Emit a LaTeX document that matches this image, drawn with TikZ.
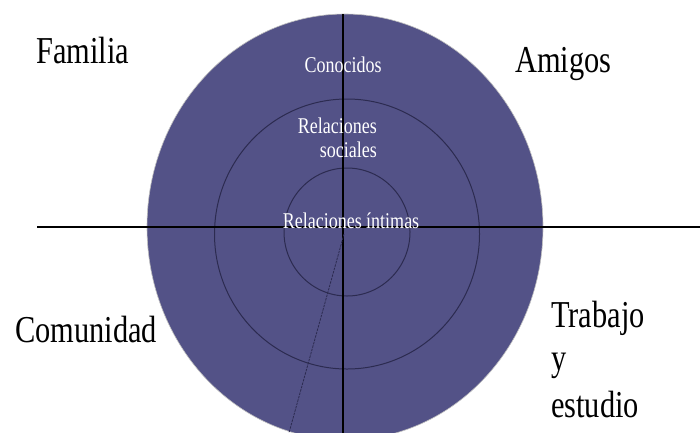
\documentclass[tikz,border=0pt]{standalone}
\usepackage{fontspec}
\setmainfont{Liberation Serif}[FakeStretch=0.8]
\definecolor{discblue}{HTML}{535287}
\definecolor{ringline}{HTML}{2C2B50}

\begin{document}
\begin{tikzpicture}[x=1pt, y=-1pt,
        outer/.style={font=\fontsize{38}{44}\selectfont, anchor=base west, inner sep=0pt},
        inner/.style={font=\fontsize{22.5}{24}\selectfont, text=white, inner sep=0pt},
        ring/.style={draw=ringline, line width=1pt},
        axis/.style={draw=black, line width=1.2pt}]
        \useasboundingbox[fill=white] (0,0) rectangle (700,432);

        \fill[discblue, draw=gray!50, line width=0.6pt] (345,227) ellipse [x radius=198pt, y radius=213pt];
        \draw[ring] (347,234) ellipse [x radius=132.5pt, y radius=135pt];
        \draw[ring] (347,232) ellipse [x radius=63pt, y radius=64pt];

        \coordinate (hl) at (37,227);
        \coordinate (hr) at (700,227);
        \coordinate (vt) at (343,14);
        \coordinate (vb) at (343,440);
        \coordinate (mid) at (344,234);
        \coordinate (cut) at (287,440);

        \draw[axis] (hl) -- (hr);
        \draw[axis] (vt) -- (vb);
        \draw[ringline, line width=0.8pt, dash pattern=on 2.5pt off 1pt] (mid) -- (cut);

        \node[inner, anchor=base] (conocidos) at (343,72) {Conocidos};
        \node[inner, anchor=base east] (relsoc1) at (377,133) {Relaciones};
        \node[inner, anchor=base east] (relsoc2) at (377,157) {sociales};
        \node[inner, anchor=base] (relint) at (351,228) {Relaciones íntimas};

        \node[outer] (familia) at (36,63) {Familia};
        \node[outer] (amigos) at (515,72) {Amigos};
        \node[outer] (comunidad) at (15,342) {Comunidad};
        \node[outer] (trabajo) at (551,327) {Trabajo};
        \node[outer] (yy) at (551,370) {y};
        \node[outer] (estudio) at (551,417) {estudio};
    \end{tikzpicture}
\end{document}
